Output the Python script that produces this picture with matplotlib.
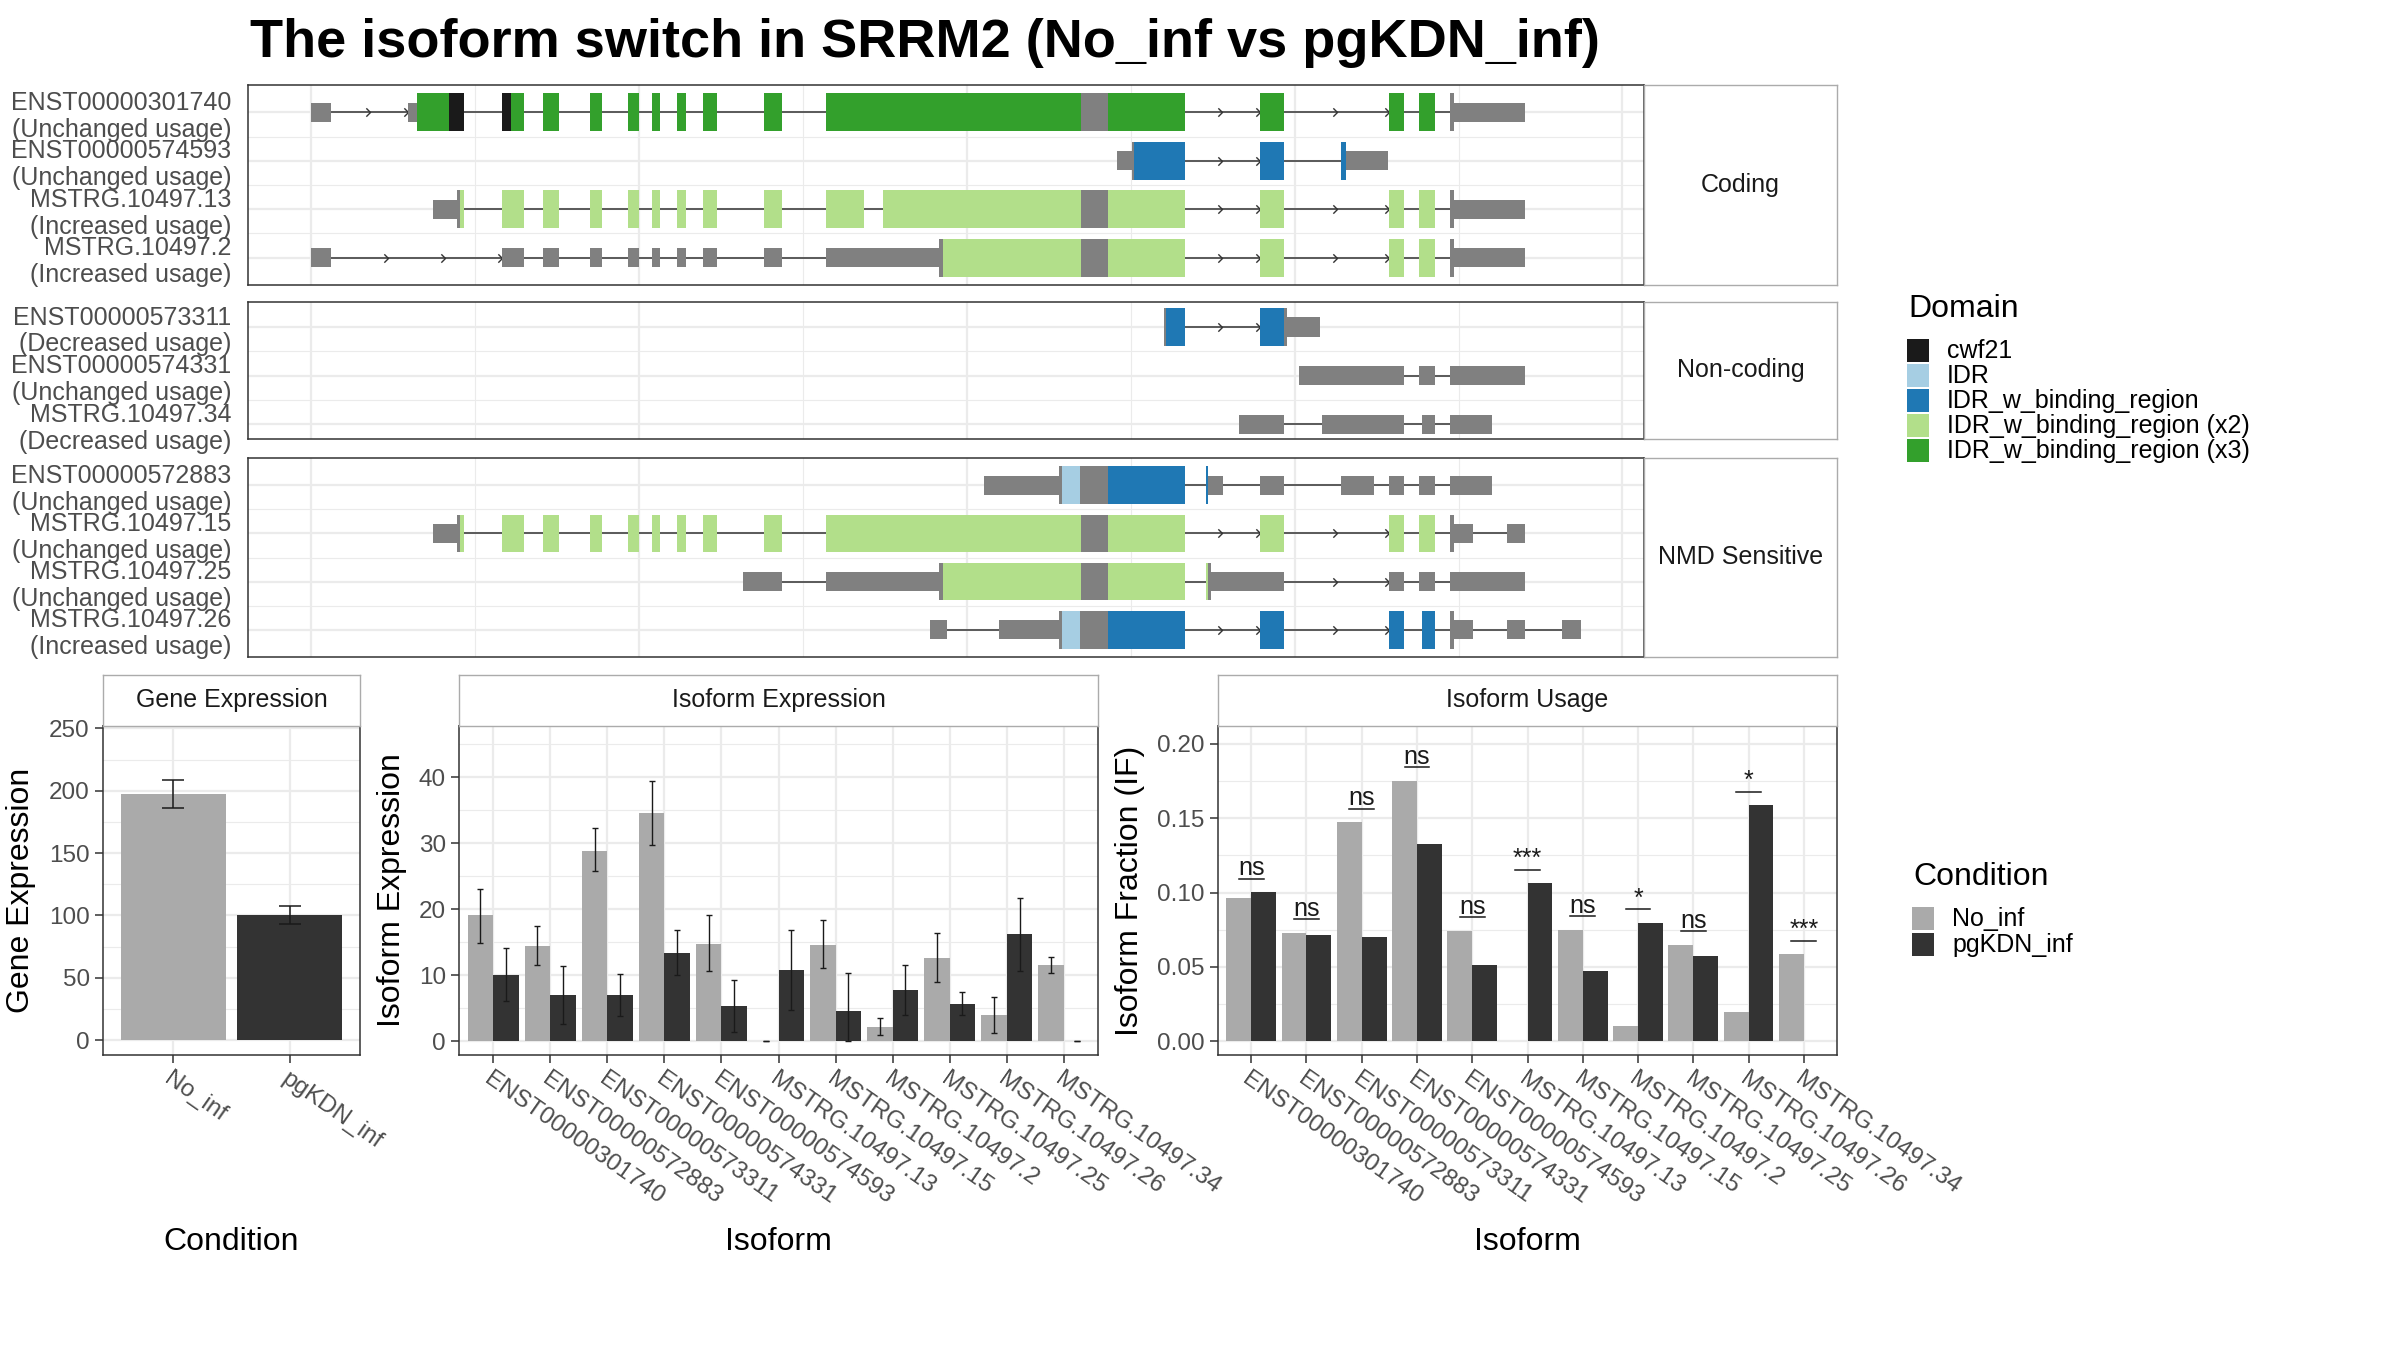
import numpy as np
import matplotlib.pyplot as plt
from matplotlib.patches import Rectangle
from matplotlib.path import Path

plt.rcParams['font.family'] = ['Liberation Sans', 'DejaVu Sans']

# ---------------- transcript structures (rescaled coordinates) ----------------
# (start, end, feature)  feature: utr = thin grey, cds = tall grey, others = domains
tx_301740 = [(0, 119, 'utr'), (590, 646, 'utr'), (646, 842, 'x3'), (842, 929, 'cwf21'),
             (1160, 1219, 'cwf21'), (1219, 1296, 'x3'), (1411, 1512, 'x3'), (1698, 1771, 'x3'),
             (1932, 2001, 'x3'), (2075, 2127, 'x3'), (2232, 2288, 'x3'), (2389, 2477, 'x3'),
             (2763, 2871, 'x3'), (3140, 4697, 'x3'), (4697, 4863, 'cds'), (4863, 5328, 'x3'),
             (5785, 5936, 'x3'), (6575, 6664, 'x3'), (6761, 6858, 'x3'), (6950, 6970, 'cds'),
             (6970, 7403, 'utr')]
tx_574593 = [(4918, 5007, 'utr'), (5007, 5022, 'cds'), (5022, 5328, 'idrb'), (5785, 5936, 'idrb'),
             (6284, 6315, 'idrb'), (6315, 6567, 'utr')]
tx_13 = [(740, 890, 'utr'), (890, 908, 'cds'), (908, 929, 'x2'), (1160, 1296, 'x2'),
         (1411, 1512, 'x2'), (1698, 1771, 'x2'), (1932, 2001, 'x2'), (2075, 2127, 'x2'),
         (2232, 2288, 'x2'), (2389, 2477, 'x2'), (2763, 2871, 'x2'), (3140, 3369, 'x2'),
         (3485, 4697, 'x2'), (4697, 4863, 'cds'), (4863, 5328, 'x2'), (5785, 5936, 'x2'),
         (6575, 6664, 'x2'), (6761, 6858, 'x2'), (6950, 6970, 'cds'), (6970, 7403, 'utr')]
tx_2 = [(0, 119, 'utr'), (1160, 1296, 'utr'), (1411, 1512, 'utr'), (1698, 1771, 'utr'),
        (1932, 2001, 'utr'), (2075, 2127, 'utr'), (2232, 2288, 'utr'), (2389, 2477, 'utr'),
        (2763, 2871, 'utr'), (3140, 3830, 'utr'), (3830, 3853, 'cds'), (3853, 4697, 'x2'),
        (4697, 4863, 'cds'), (4863, 5328, 'x2'), (5785, 5936, 'x2'), (6575, 6664, 'x2'),
        (6761, 6858, 'x2'), (6950, 6970, 'cds'), (6970, 7403, 'utr')]
tx_573311 = [(5200, 5215, 'cds'), (5215, 5328, 'idrb'), (5785, 5936, 'idrb'),
             (5936, 5952, 'cds'), (5952, 6157, 'utr')]
tx_574331 = [(6029, 6664, 'utr'), (6761, 6858, 'utr'), (6950, 7403, 'utr')]
tx_34 = [(5657, 5936, 'utr'), (6164, 6664, 'utr'), (6776, 6858, 'utr'), (6950, 7202, 'utr')]
tx_572883 = [(4105, 4562, 'utr'), (4562, 4581, 'cds'), (4581, 4689, 'idr'), (4689, 4863, 'cds'),
             (4863, 5328, 'idrb'), (5456, 5471, 'idrb'), (5471, 5560, 'utr'), (5785, 5936, 'utr'),
             (6284, 6486, 'utr'), (6575, 6664, 'utr'), (6761, 6858, 'utr'), (6950, 7202, 'utr')]
tx_15 = [(740, 890, 'utr'), (890, 908, 'cds'), (908, 929, 'x2'), (1160, 1296, 'x2'),
         (1411, 1512, 'x2'), (1698, 1771, 'x2'), (1932, 2001, 'x2'), (2075, 2127, 'x2'),
         (2232, 2288, 'x2'), (2389, 2477, 'x2'), (2763, 2871, 'x2'), (3140, 4697, 'x2'),
         (4697, 4863, 'cds'), (4863, 5328, 'x2'), (5785, 5936, 'x2'), (6575, 6664, 'x2'),
         (6761, 6858, 'x2'), (6950, 6970, 'cds'), (6970, 7086, 'utr'), (7295, 7403, 'utr')]
tx_25 = [(2634, 2871, 'utr'), (3140, 3830, 'utr'), (3830, 3853, 'cds'), (3853, 4697, 'x2'),
         (4697, 4863, 'cds'), (4863, 5328, 'x2'), (5456, 5471, 'x2'), (5471, 5490, 'cds'),
         (5490, 5936, 'utr'), (6575, 6664, 'utr'), (6761, 6858, 'utr'), (6950, 7403, 'utr')]
tx_26 = [(3775, 3880, 'utr'), (4194, 4562, 'utr'), (4562, 4581, 'cds'), (4581, 4689, 'idr'),
         (4689, 4863, 'cds'), (4863, 5328, 'idrb'), (5785, 5936, 'idrb'), (6575, 6664, 'idrb'),
         (6776, 6858, 'idrb'), (6950, 6970, 'cds'), (6970, 7086, 'utr'), (7295, 7403, 'utr'),
         (7628, 7744, 'utr')]

coding_ids = ['ENST00000301740', 'ENST00000574593', 'MSTRG.10497.13', 'MSTRG.10497.2']
coding_usage = ['Unchanged usage', 'Unchanged usage', 'Increased usage', 'Increased usage']
coding_tx = [tx_301740, tx_574593, tx_13, tx_2]
noncoding_ids = ['ENST00000573311', 'ENST00000574331', 'MSTRG.10497.34']
noncoding_usage = ['Decreased usage', 'Unchanged usage', 'Decreased usage']
noncoding_tx = [tx_573311, tx_574331, tx_34]
nmd_ids = ['ENST00000572883', 'MSTRG.10497.15', 'MSTRG.10497.25', 'MSTRG.10497.26']
nmd_usage = ['Unchanged usage', 'Unchanged usage', 'Unchanged usage', 'Increased usage']
nmd_tx = [tx_572883, tx_15, tx_25, tx_26]

domain_names = ['cwf21', 'IDR', 'IDR_w_binding_region', 'IDR_w_binding_region (x2)',
                'IDR_w_binding_region (x3)']
domain_keys = ['cwf21', 'idr', 'idrb', 'x2', 'x3']
domain_colors = ['#1A1A1A', '#A6CEE3', '#1F78B4', '#B2DF8A', '#33A02C']

# ---------------- expression data ----------------
conditions = ['No_inf', 'pgKDN_inf']
cond_colors = ['#AAAAAA', '#333333']
gene_mean = [197.5, 100.2]
gene_lo = [186.5, 93.5]
gene_hi = [209.0, 107.3]

isoforms = ['ENST00000301740', 'ENST00000572883', 'ENST00000573311', 'ENST00000574331',
            'ENST00000574593', 'MSTRG.10497.13', 'MSTRG.10497.15', 'MSTRG.10497.2',
            'MSTRG.10497.25', 'MSTRG.10497.26', 'MSTRG.10497.34']
iso_no = [19.1, 14.5, 28.9, 34.6, 14.8, 0.0, 14.6, 2.2, 12.6, 3.9, 11.6]
iso_no_lo = [14.9, 11.5, 25.8, 29.7, 10.6, 0.0, 11.1, 0.9, 9.0, 1.2, 10.4]
iso_no_hi = [23.1, 17.5, 32.3, 39.5, 19.1, 0.0, 18.4, 3.5, 16.4, 6.7, 12.7]
iso_pg = [10.0, 7.0, 7.0, 13.4, 5.3, 10.8, 4.5, 7.7, 5.7, 16.2, 0.0]
iso_pg_lo = [6.1, 2.6, 3.8, 10.0, 1.4, 4.8, 0.0, 4.0, 3.9, 10.6, 0.0]
iso_pg_hi = [14.1, 11.4, 10.2, 16.9, 9.2, 16.9, 10.3, 11.6, 7.5, 21.7, 0.0]

if_no = [0.0961, 0.0730, 0.1472, 0.1751, 0.0744, 0.0, 0.0751, 0.0104, 0.0649, 0.0200, 0.0587]
if_pg = [0.1002, 0.0717, 0.0703, 0.1329, 0.0512, 0.1063, 0.0472, 0.0798, 0.0574, 0.1587, 0.0]
sig_labels = ['ns', 'ns', 'ns', 'ns', 'ns', '***', 'ns', '*', 'ns', '*', '***']

# ---------------- layout helpers ----------------
W, H = 2400, 1350
fig = plt.figure(figsize=(24, 13.5), dpi=100)
fig.patch.set_facecolor('white')

GRID = '#EBEBEB'
TXT = '#4D4D4D'
AX_SIZE = 17.5


def rect(l, t, r, b):
    return [l / W, 1 - b / H, (r - l) / W, (b - t) / H]


def add_strip(box, label):
    s = fig.add_axes(rect(*box))
    s.set_xticks([])
    s.set_yticks([])
    for sp in s.spines.values():
        sp.set_color('#ABABAB')
        sp.set_linewidth(1.0)
    s.text(0.5, 0.5, label, ha='center', va='center', fontsize=18, color='#1A1A1A',
           transform=s.transAxes)
    return s


def frame(ax):
    for sp in ax.spines.values():
        sp.set_color('#333333')
        sp.set_linewidth(1.1)
        sp.set_zorder(10)
    ax.set_axisbelow(True)
    ax.grid(which='major', color=GRID, lw=1.6)
    ax.grid(which='minor', color=GRID, lw=0.8)


# ---------------- transcript panel ----------------
feat_color = dict(zip(domain_keys, domain_colors))
feat_color['utr'] = '#808080'
feat_color['cds'] = '#808080'
intron_col = '#333333'
chevron = Path([(-1, 1), (0, 0), (-1, -1)], [Path.MOVETO, Path.LINETO, Path.LINETO])

all_tx = coding_tx + noncoding_tx + nmd_tx
x_min = min(s[0][0] for s in all_tx)
x_max = max(s[-1][1] for s in all_tx)
x_pad = 0.05 * (x_max - x_min)

facets = [
    ('Coding', coding_ids, coding_usage, coding_tx, (85, 285), (4.565, 0.435)),
    ('Non-coding', noncoding_ids, noncoding_usage, noncoding_tx, (302, 439), (3.30, 0.485)),
    ('NMD Sensitive', nmd_ids, nmd_usage, nmd_tx, (458, 657), (4.565, 0.435)),
]
PL, PR, SR = 248, 1644, 1837

for name, ids, usage, txs, (top, bot), ylim in facets:
    ax = fig.add_axes(rect(PL, top, PR, bot))
    frame(ax)
    ax.set_xlim(x_min - x_pad, x_max + x_pad)
    ax.set_ylim(*ylim)
    ax.set_xticks(np.arange(0, 8001, 2000))
    ax.set_xticks(np.arange(1000, 8001, 2000), minor=True)
    rows = np.arange(1, len(ids) + 1)
    ax.set_yticks(rows)
    ax.set_yticks(rows[:-1] + 0.5, minor=True)
    ax.set_yticklabels([f'{i}\n({u})' for i, u in zip(ids, usage)], fontsize=18,
                       color=TXT, linespacing=1.15)
    ax.tick_params(which='both', length=0)
    ax.tick_params(axis='y', pad=12)
    ax.set_xticklabels([])
    for row, segs in zip(rows, txs):
        for (s0, e0, _), (s1, e1, _) in zip(segs[:-1], segs[1:]):
            if s1 > e0:
                ax.plot([e0, s1], [row, row], color=intron_col, lw=1.1, zorder=2)
                L = s1 - e0
                if L > 400:
                    n = max(2, int(round(L / 350)))
                    xs = e0 + L * np.arange(1, n + 1) / n
                    ax.plot(xs, [row] * n, ls='none', marker=chevron, ms=6,
                            mec=intron_col, mfc='none', mew=1.0, zorder=2)
        for s, e, k in segs:
            h = 0.2 if k == 'utr' else 0.39
            ax.add_patch(Rectangle((s, row - h), e - s, 2 * h, facecolor=feat_color[k],
                                   edgecolor='none', zorder=3))
    add_strip((PR, top, SR, bot), name)

# ---------------- bottom panels ----------------
BT, BB, ST = 726, 1055, 675


def bar_axes(l, r, title):
    ax = fig.add_axes(rect(l, BT, r, BB))
    frame(ax)
    ax.tick_params(which='major', colors='#333333', labelcolor=TXT, labelsize=AX_SIZE,
                   length=5.5, width=1.1, pad=4)
    ax.tick_params(which='minor', length=0)
    add_strip((l, ST, r, BT), title)
    return ax


# Gene expression
ax = bar_axes(103, 360, 'Gene Expression')
xg = np.arange(1, 3)
ax.bar(xg, gene_mean, width=0.9, color=cond_colors, zorder=2)
ax.errorbar(xg, gene_mean, yerr=[np.subtract(gene_mean, gene_lo), np.subtract(gene_hi, gene_mean)],
            fmt='none', ecolor='#1A1A1A', elinewidth=1.1, capsize=8, capthick=1.1, zorder=3)
ax.set_xlim(0.4, 2.6)
ax.set_ylim(-12, 252)
ax.set_yticks(np.arange(0, 251, 50))
ax.set_yticks(np.arange(25, 251, 50), minor=True)
ax.set_xticks(xg)
ax.set_xticklabels(conditions, rotation=-35, ha='left', va='top', rotation_mode='anchor')

# Isoform expression
xi = np.arange(1, len(isoforms) + 1)
ax = bar_axes(459, 1098, 'Isoform Expression')
for vals, lo, hi, col, off in [(iso_no, iso_no_lo, iso_no_hi, cond_colors[0], -0.225),
                               (iso_pg, iso_pg_lo, iso_pg_hi, cond_colors[1], 0.225)]:
    ax.bar(xi + off, vals, width=0.45, color=col, zorder=2)
    ax.errorbar(xi + off, vals, yerr=[np.subtract(vals, lo), np.subtract(hi, vals)],
                fmt='none', ecolor='#1A1A1A', elinewidth=1.0, capsize=2, capthick=1.0, zorder=3)
ax.set_xlim(0.4, len(isoforms) + 0.6)
ax.set_ylim(-2.1, 47.8)
ax.set_yticks(np.arange(0, 41, 10))
ax.set_yticks(np.arange(5, 46, 10), minor=True)
ax.set_xticks(xi)
ax.set_xticklabels(isoforms, rotation=-35, ha='left', va='top', rotation_mode='anchor')

# Isoform usage
ax = bar_axes(1218, 1837, 'Isoform Usage')
ax.bar(xi - 0.225, if_no, width=0.45, color=cond_colors[0], zorder=2)
ax.bar(xi + 0.225, if_pg, width=0.45, color=cond_colors[1], zorder=2)
sig_y = np.maximum(if_no, if_pg) + 0.009
for x, y, lab in zip(xi, sig_y, sig_labels):
    ax.plot([x - 0.225, x + 0.225], [y, y], color='#1A1A1A', lw=1.1, zorder=3)
    ax.annotate(lab, (x, y), xytext=(0, 2.5), textcoords='offset points', ha='center',
                va='baseline', fontsize=18, color='#1A1A1A')
ax.set_xlim(0.4, len(isoforms) + 0.6)
ax.set_ylim(-0.0091, 0.2118)
ax.set_yticks(np.arange(0, 0.201, 0.05))
ax.set_yticks(np.arange(0.025, 0.21, 0.05), minor=True)
ax.set_yticklabels([f'{v:.2f}' for v in np.arange(0, 0.201, 0.05)])
ax.set_xticks(xi)
ax.set_xticklabels(isoforms, rotation=-35, ha='left', va='top', rotation_mode='anchor')

# axis titles
ymid = 1 - (BT + BB) / 2 / H
fig.text(21 / W, ymid, 'Gene Expression', rotation=90, ha='center', va='center', fontsize=23)
fig.text(392 / W, ymid, 'Isoform Expression', rotation=90, ha='center', va='center', fontsize=23)
fig.text(1130 / W, ymid, 'Isoform Fraction (IF)', rotation=90, ha='center', va='center', fontsize=23)
for cx, lab in [((103 + 360) / 2, 'Condition'), ((459 + 1098) / 2, 'Isoform'),
                ((1218 + 1837) / 2, 'Isoform')]:
    fig.text(cx / W, 1 - 1242 / H, lab, ha='center', va='center', fontsize=23)

# title
fig.text(250 / W, 1 - 43 / H, 'The isoform switch in SRRM2 (No_inf vs pgKDN_inf)',
         ha='left', va='center', fontsize=39, fontweight='bold')


# ---------------- legends ----------------
def legend(x, title_y, title, names, colors, step):
    fig.text((x + 1) / W, 1 - title_y / H, title, ha='left', va='center', fontsize=23)
    first_top = title_y + 30
    for i, (n, c) in enumerate(zip(names, colors)):
        t = first_top + i * step
        fig.add_artist(Rectangle((x / W, 1 - (t + 23.4) / H), 22 / W, 23.4 / H,
                                 transform=fig.transFigure, facecolor=c, edgecolor='none'))
        fig.text((x + 40) / W, 1 - (t + 11.7) / H, n, ha='left', va='center', fontsize=18)


legend(1907, 309, 'Domain', domain_names, domain_colors, 25)
legend(1912, 877, 'Condition', conditions, cond_colors, 26)

fig.savefig('out.png', dpi=100, facecolor='white')
